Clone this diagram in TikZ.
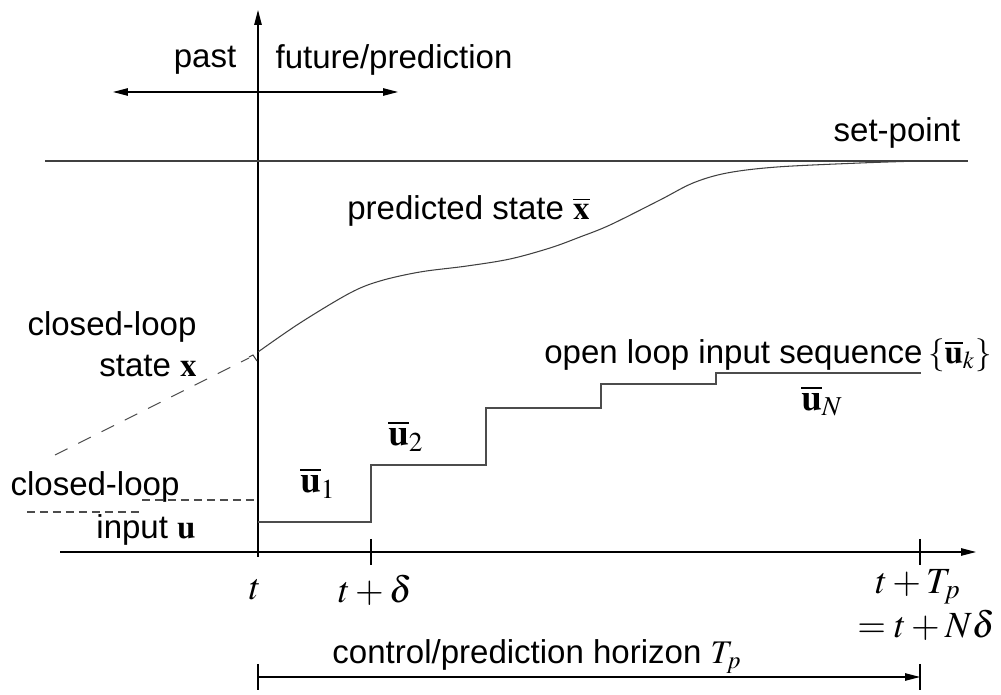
\documentclass[tikz,border=0pt]{standalone}
\usepackage{mathptmx}
\usepackage{fontspec}
\setmainfont{Liberation Sans}
\usetikzlibrary{arrows.meta}
\tikzset{
  lbl/.style={inner sep=0pt, font=\fontsize{18.8}{22}\selectfont},
  mlbl/.style={inner sep=0pt, font=\fontsize{21}{25}\selectfont},
  axis/.style={line width=0.6pt, black},
  tip/.style={-{Triangle[length=0.3cm,width=0.15cm]}},
  tips/.style={{Triangle[length=0.3cm,width=0.15cm]}-{Triangle[length=0.3cm,width=0.15cm]}},
  tickmark/.style={line width=1.3pt, black},
  thinline/.style={line width=0.6pt, black!75},
  stepline/.style={line width=0.8pt, black!70},
  longdash/.style={line width=0.6pt, black!70, dash pattern=on 0.28cm off 0.24cm},
  shortdash/.style={line width=0.6pt, black!70, dash pattern=on 0.16cm off 0.1cm},
}
\begin{document}
\begin{tikzpicture}[x=0.02cm, y=-0.02cm]
\useasboundingbox (0,0) rectangle (1001,695);
% coordinates
\coordinate (vbot) at (258,557);
\coordinate (vtop) at (258,10);
\coordinate (hl) at (60,552);
\coordinate (hr) at (976,552);
\coordinate (pl) at (113,92);
\coordinate (pr) at (398,92);
\coordinate (spl) at (45,161);
\coordinate (spr) at (968,161);
% axes
\draw[axis, tip] (vbot) -- (vtop);
\draw[axis, tip] (hl) -- (hr);
\draw[axis, tips] (pl) -- (pr);
\draw[thinline] (spl) -- (spr);
% ticks
\coordinate (t1a) at (371,539); \coordinate (t1b) at (371,565);
\coordinate (t2a) at (920,539); \coordinate (t2b) at (920,565);
\draw[tickmark] (t1a) -- (t1b);
\draw[tickmark] (t2a) -- (t2b);
% horizon arrow
\coordinate (hza) at (258,677); \coordinate (hzb) at (920,677);
\draw[axis, tip] (hza) -- (hzb);
\draw[tickmark, line width=0.8pt] (258,664) -- (258,690);
\draw[tickmark, line width=0.8pt] (920,664) -- (920,690);
% predicted state curve
\draw[thinline] plot[smooth, tension=0.55] coordinates {(258,352) (300,323) (350,293) (380,281) (420,272) (467,266) (510,259) (550,248) (580,237) (610,225) (660,200) (693,183) (727,173) (777,167) (860,163) (920,161)};
% closed-loop state (dashed) and hook
\coordinate (csa) at (55,455); \coordinate (csb) at (249,358);
\draw[longdash] (csa) -- (csb);
\draw[thinline] (249,357) -- (253,355) -- (257,361);
% closed-loop input (dashed)
\draw[shortdash] (27,512) -- (142,512);
\draw[shortdash] (142,500) -- (257,500);
% open-loop input steps
\draw[stepline] (258,522) -- (371,522) -- (371,465) -- (486,465) -- (486,408) -- (601,408) -- (601,384) -- (716,384) -- (716,373) -- (921,373);
% labels
\node[lbl] (past) at (205,60) {past};
\node[lbl] (future) at (394,60) {future/prediction};
\node[lbl] (setpoint) at (897,133) {set-point};
\node[lbl, anchor=west] (pred) at (347,211) {predicted state $\overline{\mathbf{x}}$};
\node[lbl] (cl1) at (112,327) {closed-loop};
\node[lbl, anchor=east] (stx) at (197,366) {state $\mathbf{x}$};
\node[lbl] (cl2) at (95,487) {closed-loop};
\node[lbl] (inu) at (146,530) {input $\mathbf{u}$};
\node[mlbl] (u1) at (318,483) {$\overline{\mathbf{u}}_1$};
\node[mlbl] (u2) at (406,436) {$\overline{\mathbf{u}}_2$};
\node[lbl, anchor=east] (olis) at (992,355) {open loop input sequence\,$\{\overline{\mathbf{u}}_k\}$};
\node[mlbl] (uN) at (822,401) {$\overline{\mathbf{u}}_N$};
\node[mlbl] (lt) at (255,590) {$t$};
\node[mlbl] (ltd) at (375,590) {$t+\delta$};
\node[mlbl] (ltT) at (918,587) {$t+T_p$};
\node[mlbl] (ltN) at (926,625) {$=t+N\delta$};
\node[lbl] (hor) at (537,657) {control/prediction horizon $T_p$};
\end{tikzpicture}
\end{document}
